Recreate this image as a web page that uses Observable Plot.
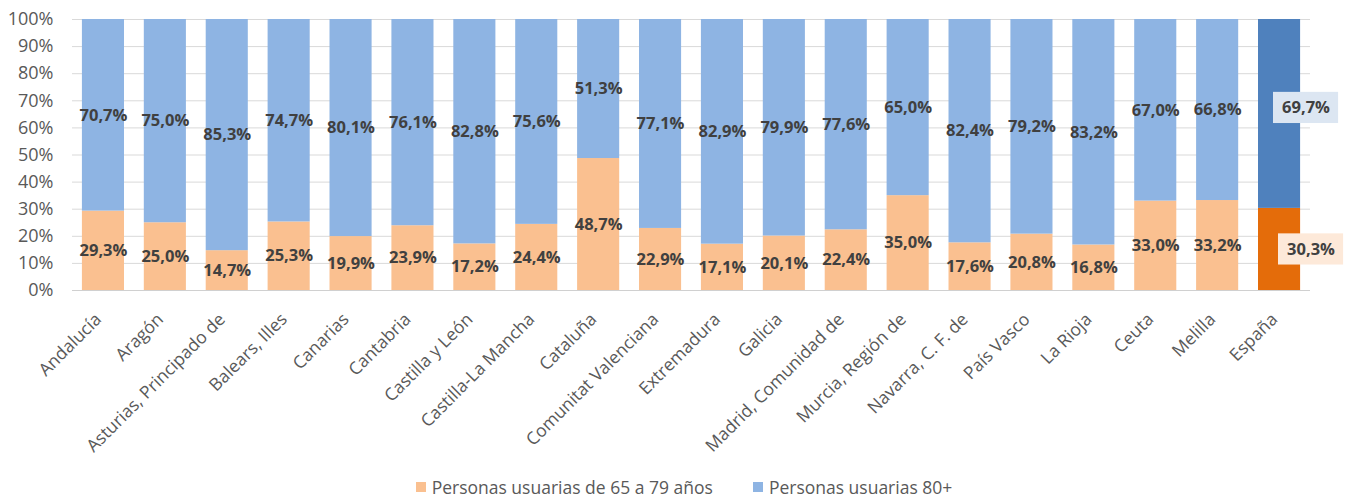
<!DOCTYPE html>
<html>
<head>
<meta charset="utf-8">
<script src="https://cdn.jsdelivr.net/npm/d3@7"></script>
<script src="https://cdn.jsdelivr.net/npm/@observablehq/plot@0.6"></script>
<style>
  html, body { margin: 0; padding: 0; background: #fff; }
  body { width: 1350px; height: 497px; overflow: hidden; font-family: "Open Sans", sans-serif; }
  .legend { display: flex; justify-content: center; align-items: center; gap: 40px; height: 27px; margin-top: 3px; padding-left: 18px; font-size: 17.5px; color: #595959; }
  .legend span.sw { display: inline-block; width: 10px; height: 10px; margin-right: 6px; }
  .legend .item { display: flex; align-items: center; }
</style>
</head>
<body>
<div id="chart"></div>
<script>
const categories = ["Andalucía", "Aragón", "Asturias, Principado de", "Balears, Illes", "Canarias", "Cantabria", "Castilla y León", "Castilla-La Mancha", "Cataluña", "Comunitat Valenciana", "Extremadura", "Galicia", "Madrid, Comunidad de", "Murcia, Región de", "Navarra, C. F. de", "País Vasco", "La Rioja", "Ceuta", "Melilla", "España"];
const young = [29.3, 25.0, 14.7, 25.3, 19.9, 23.9, 17.2, 24.4, 48.7, 22.9, 17.1, 20.1, 22.4, 35.0, 17.6, 20.8, 16.8, 33.0, 33.2, 30.3];
const old = [70.7, 75.0, 85.3, 74.7, 80.1, 76.1, 82.8, 75.6, 51.3, 77.1, 82.9, 79.9, 77.6, 65.0, 82.4, 79.2, 83.2, 67.0, 66.8, 69.7];
const seriesNames = ["Personas usuarias de 65 a 79 años", "Personas usuarias 80+"];
const yTicks = [0, 10, 20, 30, 40, 50, 60, 70, 80, 90, 100];
const totalCategory = "España";

const colors = {
  light: ["#FAC090", "#8EB4E3"],
  dark: ["#E46C0A", "#4F81BD"],
  box: ["#FDE9D9", "#DCE6F2"]
};

const rows = [];
categories.forEach((c, i) => {
  rows.push({cat: c, s: 0, value: young[i], mid: young[i] / 2});
  rows.push({cat: c, s: 1, value: old[i], mid: young[i] + old[i] / 2});
});
const fmt = v => v.toFixed(1).replace(".", ",") + "%";
const colorOf = d => (d.cat === totalCategory ? colors.dark : colors.light)[d.s];

const normal = rows.filter(d => d.cat !== totalCategory);
const espTop = rows.filter(d => d.cat === totalCategory && d.s === 1);
const espBot = rows.filter(d => d.cat === totalCategory && d.s === 0);

// label box half-height in percentage units (≈ 15.5px at 2.71px per %)
const boxHalf = 5.75;
const labelStyle = {fill: "#404040", fontWeight: "bold", fontSize: 16.5};

const plot = Plot.plot({
  width: 1350,
  height: 470,
  marginLeft: 72,
  marginRight: 40,
  marginTop: 19,
  marginBottom: 180,
  style: {fontFamily: "Open Sans, sans-serif", fontSize: "17px", color: "#595959", background: "#fff"},
  x: {domain: categories, paddingInner: 0.32, paddingOuter: 0.16, round: false, label: null},
  y: {domain: [0, 100], label: null},
  marks: [
    Plot.ruleY(yTicks, {stroke: "#D9D9D9", strokeWidth: 1}),
    Plot.barY(rows, Plot.stackY({x: "cat", y: "value", z: "s", order: null, fill: colorOf})),
    Plot.text(normal, {x: "cat", y: "mid", text: d => fmt(d.value), ...labelStyle}),
    Plot.barY(espTop, {x: "cat", y1: d => d.mid - boxHalf, y2: d => d.mid + boxHalf, fill: colors.box[1], dx: 26.5, dy: -6, insetLeft: -11.5, insetRight: -11.5}),
    Plot.barY(espBot, {x: "cat", y1: d => d.mid - boxHalf, y2: d => d.mid + boxHalf, fill: colors.box[0], dx: 31.5, insetLeft: -11.5, insetRight: -11.5}),
    Plot.text(espTop, {x: "cat", y: "mid", text: d => fmt(d.value), ...labelStyle, dx: 26.5, dy: -6}),
    Plot.text(espBot, {x: "cat", y: "mid", text: d => fmt(d.value), ...labelStyle, dx: 31.5}),
    Plot.axisY({ticks: yTicks, tickFormat: d => d + "%", tickSize: 0, tickPadding: 19, fontSize: 18, fill: "#595959", label: null}),
    Plot.axisX({tickRotate: -45, tickSize: 0, tickPadding: 26, dx: -5, fontSize: 17.5, fill: "#595959", label: null}),
    Plot.ruleY([0], {stroke: "#D0D0D0"})
  ]
});
document.getElementById("chart").appendChild(plot);

const legend = d3.select("body").append("div").attr("class", "legend");
seriesNames.forEach((n, i) => {
  const it = legend.append("div").attr("class", "item");
  it.append("span").attr("class", "sw").style("background", colors.light[i]);
  it.append("span").text(n);
});
</script>
</body>
</html>
